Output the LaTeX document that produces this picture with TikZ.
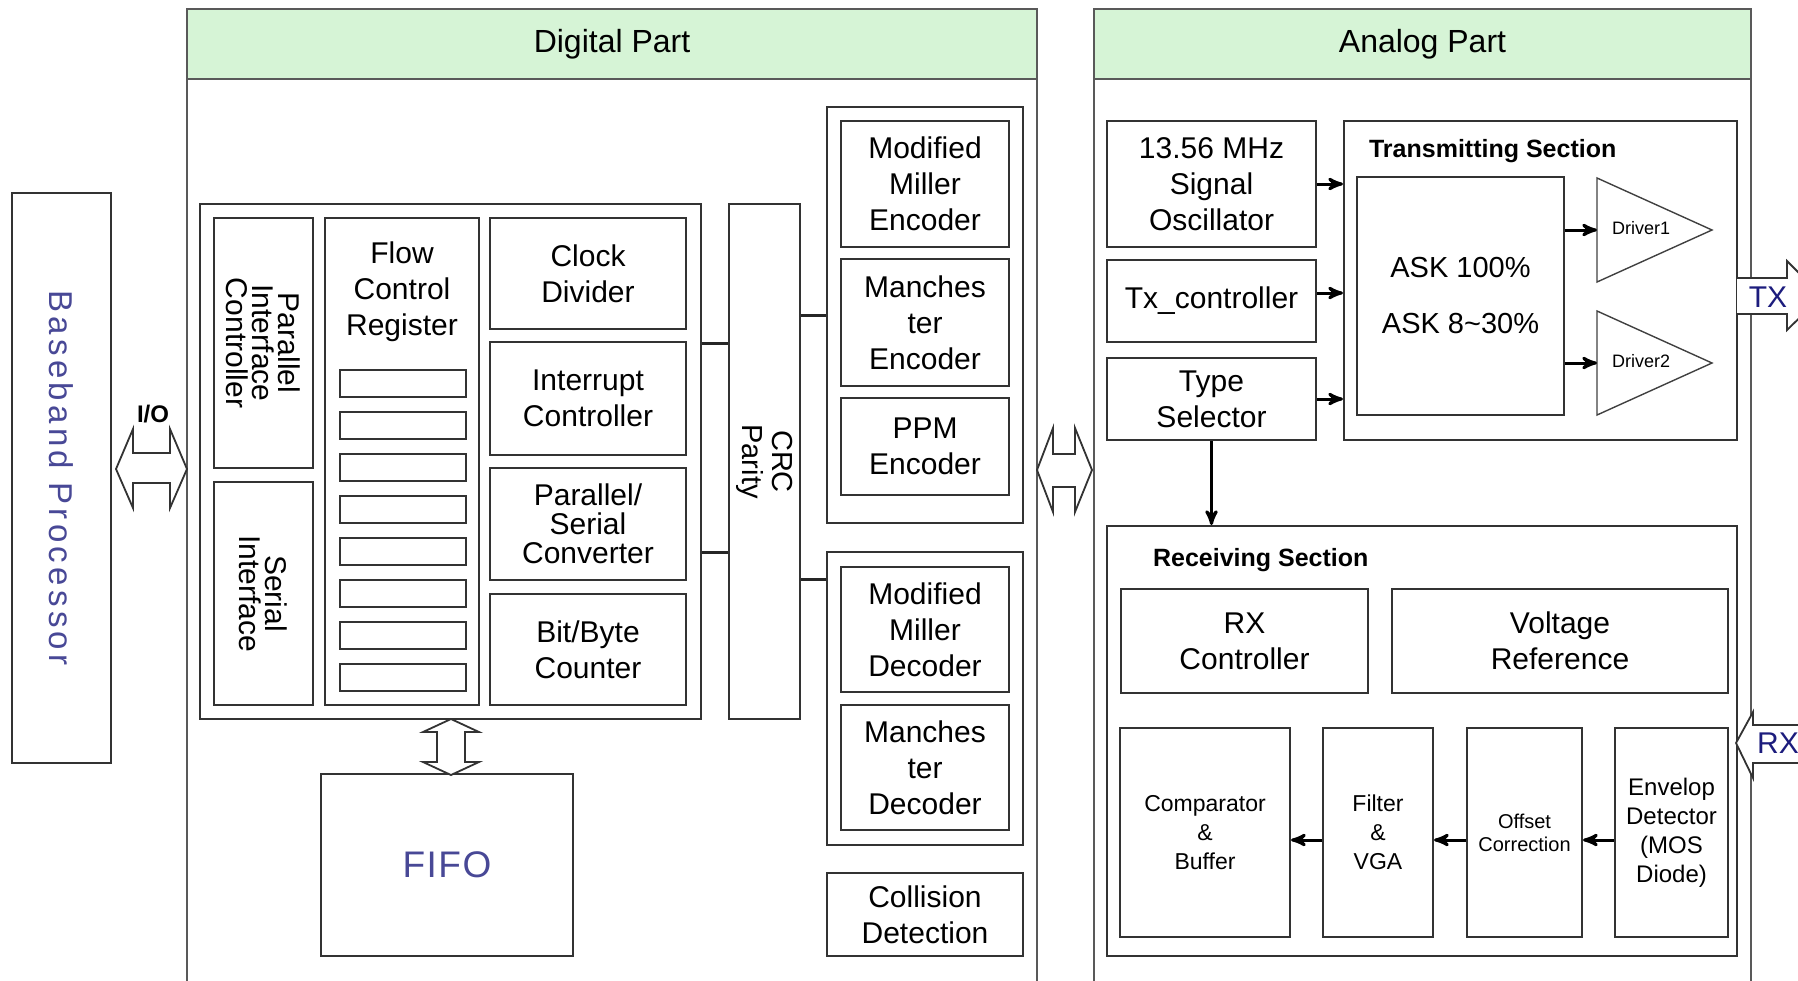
\documentclass[tikz,border=0pt]{standalone}
\usepackage{fontspec}
\setmainfont{Liberation Sans}
\usetikzlibrary{arrows}
\tikzset{%
 >=stealth'
}
\usetikzlibrary{positioning}

\definecolor{hdgreen}{RGB}{214,244,214}
\definecolor{bbblue}{RGB}{72,72,150}
\definecolor{txblue}{RGB}{28,28,125}
\newcommand\blkfont{\fontsize{15}{18}\selectfont}
\newcommand\vertfont{\fontsize{15}{13}\selectfont}
\newcommand\smfont{\fontsize{11.5}{14.5}\selectfont}
\newcommand\secfont{\bfseries\fontsize{12.5}{15}\selectfont}

\tikzset{
 spanbox/.style args={#1,#2,#3,#4}{minimum width={((#3)-(#1))*.5pt}, minimum height={((#4)-(#2))*.5pt},
   at={({((#1)+(#3))/2},{((#2)+(#4))/2})}},
 blk/.style={draw=black!80, line width=1pt, inner sep=0pt, align=center, font=\blkfont},
 part/.style={draw=black!65, line width=1pt},
 hdr/.style={blk, fill=hdgreen, draw=black!65, font=\fontsize{16}{18}\selectfont},
 bus/.style={line width=1.5pt, black!85},
 arr/.style={->, line width=1.5pt},
 hollow/.style={draw=black!80, line width=.9pt, fill=white, line join=miter},
 tri/.style={draw=black!75, line width=.7pt},
}

\begin{document}
\begin{tikzpicture}[x=.5pt, y=-.5pt]
 \useasboundingbox (0,0) rectangle (1798,980);

 % baseband processor
 \node (bb) [blk, spanbox={12,193,111,763}] {};
 \node (bbt) at (bb.center) [rotate=-90, text=bbblue,
   font=\fontsize{16.5}{18}\selectfont\addfontfeature{LetterSpace=13}] {Baseband Processor};

 % digital part
 \draw [part] (187,990) -- (187,9) -- (1037,9) -- (1037,990);
 \node (dighd) [hdr, spanbox={187,9,1037,79}] {Digital Part};

 \node (core) [blk, spanbox={200,204,701,719}] {};
 \node (pic) [blk, spanbox={214,218,313,468}] {};
 \node (pict) at (pic.center) [rotate=-90, align=center, font=\vertfont] {Parallel\\Interface\\Controller};
 \node (ser) [blk, spanbox={214,482,313,705}] {};
 \node (sert) at (ser.center) [rotate=-90, align=center, font=\vertfont] {Serial\\Interface};
 \node (fcr) [blk, spanbox={325,218,479,705}] {};
 \node (fcrt) at (402,292) [align=center, font=\blkfont] {Flow\\Control\\Register};
 \foreach \i in {0,...,7}
  \node (reg\i) [blk, spanbox={340,370+42*\i,466,397+42*\i}] {};

 \node (clk) [blk, spanbox={490,218,686,329}] {Clock\\Divider};
 \node (irq) [blk, spanbox={490,342,686,455}] {Interrupt\\Controller};
 \node (psc) [blk, spanbox={490,468,686,580}, font=\fontsize{15}{14.5}\selectfont] {Parallel/\\Serial\\Converter};
 \node (cnt) [blk, spanbox={490,594,686,705}] {Bit/Byte\\Counter};

 \node (crc) [blk, spanbox={729,204,800,719}] {};
 \node (crct) at (crc.center) [rotate=-90, align=center, font=\fontsize{14.5}{15}\selectfont] {CRC\\Parity};

 \node (encgrp) [blk, spanbox={827,107,1023,523}] {};
 \node (mme) [blk, spanbox={841,121,1009,247}] {Modified\\Miller\\Encoder};
 \node (mce) [blk, spanbox={841,259,1009,386}] {Manches\\ter\\Encoder};
 \node (ppm) [blk, spanbox={841,398,1009,495}] {PPM\\Encoder};
 \node (decgrp) [blk, spanbox={827,552,1023,845}] {};
 \node (mmd) [blk, spanbox={841,567,1009,692}] {Modified\\Miller\\Decoder};
 \node (mcd) [blk, spanbox={841,705,1009,830}] {Manches\\ter\\Decoder};
 \node (col) [blk, spanbox={827,873,1023,956}] {Collision\\Detection};

 \node (fifo) [blk, spanbox={321,774,573,956}, text=bbblue,
   font=\fontsize{18.5}{20}\selectfont\addfontfeature{LetterSpace=4}] {FIFO};

 \draw [bus] (core.east |- 0,343) -- (crc.west |- 0,343);
 \draw [bus] (core.east |- 0,552) -- (crc.west |- 0,552);
 \draw [bus] (crc.east |- 0,315) -- (encgrp.west |- 0,315);
 \draw [bus] (crc.east |- 0,579) -- (decgrp.west |- 0,579);

 % analog part
 \draw [part] (1094,990) -- (1094,9) -- (1751,9) -- (1751,990);
 \node (anahd) [hdr, spanbox={1094,9,1751,79}] {Analog Part};

 \node (osc) [blk, spanbox={1107,121,1316,247}] {13.56 MHz\\Signal\\Oscillator};
 \node (txc) [blk, spanbox={1107,260,1316,342}] {Tx\_controller};
 \node (typ) [blk, spanbox={1107,358,1316,440}] {Type\\Selector};

 \node (txs) [blk, spanbox={1344,121,1737,440}] {};
 \node (txst) at (1362,157) [anchor=base west, font=\secfont] {Transmitting Section};
 \node (ask) [blk, spanbox={1357,177,1564,415}, font=\fontsize{14.5}{28}\selectfont] {ASK 100\%\\ASK 8\textasciitilde30\%};

 \coordinate (drv1in) at (1597,230);
 \coordinate (drv2in) at (1597,363);
 \draw [tri] (1597,178) -- (1712,230) -- (1597,282) -- cycle;
 \draw [tri] (1597,311) -- (1712,363) -- (1597,415) -- cycle;
 \node (drv1) at (1641,228) [font=\fontsize{9}{10}\selectfont] {Driver1};
 \node (drv2) at (1641,361) [font=\fontsize{9}{10}\selectfont] {Driver2};

 \draw [arr] (osc.east) -- (osc.east -| txs.west);
 \draw [arr] (txc.east |- 0,293) -- (txs.west |- 0,293);
 \draw [arr] (typ.east) -- (typ.east -| txs.west);
 \draw [arr] (ask.east |- drv1in) -- (drv1in);
 \draw [arr] (ask.east |- drv2in) -- (drv2in);

 \node (rxs) [blk, spanbox={1107,526,1737,956}] {};
 \node (rxst) at (1146,566) [anchor=base west, font=\secfont] {Receiving Section};
 \draw [arr] (typ.south) -- (typ.south |- rxs.north);

 \node (rxc) [blk, spanbox={1121,589,1368,693}] {RX\\Controller};
 \node (vref) [blk, spanbox={1392,589,1728,693}] {Voltage\\Reference};
 \node (cmp) [blk, spanbox={1120,728,1290,937}, font=\smfont] {Comparator\\\&\\Buffer};
 \node (fvga) [blk, spanbox={1323,728,1433,937}, font=\smfont] {Filter\\\&\\VGA};
 \node (ofs) [blk, spanbox={1467,728,1582,937}, font=\fontsize{10}{11.5}\selectfont] {Offset\\Correction};
 \node (env) [blk, spanbox={1615,728,1728,937}, font=\fontsize{12}{14.5}\selectfont] {Envelop\\Detector\\(MOS\\Diode)};

 \draw [arr] (env.west |- 0,840) -- (ofs.east |- 0,840);
 \draw [arr] (ofs.west |- 0,840) -- (fvga.east |- 0,840);
 \draw [arr] (fvga.west |- 0,840) -- (cmp.east |- 0,840);

 % hollow arrows
 \draw [hollow] (116,469) -- (133,429) -- (133,453) -- (170,453) -- (170,429) -- (187,469)
   -- (170,508) -- (170,483) -- (133,483) -- (133,508) -- cycle;
 \node (iol) at (153,414) [font=\bfseries\fontsize{12}{14}\selectfont] {I/O};
 \draw [hollow] (1037,470) -- (1053,428) -- (1053,454) -- (1075,454) -- (1075,428) -- (1092,470)
   -- (1075,512) -- (1075,487) -- (1053,487) -- (1053,512) -- cycle;
 \draw [hollow] (451,719) -- (479,732) -- (465,732) -- (465,762) -- (479,762) -- (451,775)
   -- (423,762) -- (437,762) -- (437,732) -- (423,732) -- cycle;
 \draw [hollow] (1737,278) -- (1787,278) -- (1787,261) -- (1822,296) -- (1787,330) -- (1787,314) -- (1737,314);
 \node (txl) at (1768,297) [text=txblue, font=\fontsize{15}{16}\selectfont] {TX};
 \draw [hollow] (1815,725) -- (1753,725) -- (1753,712) -- (1736,743) -- (1753,778) -- (1753,763) -- (1815,763);
 \node (rxl) at (1778,743) [text=txblue, font=\fontsize{15}{16}\selectfont] {RX};
\end{tikzpicture}
\end{document}
